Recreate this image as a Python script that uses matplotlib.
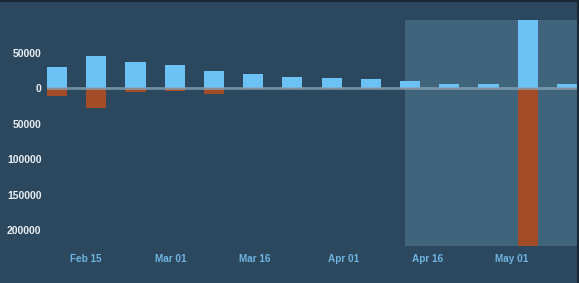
import datetime as dt
import matplotlib
matplotlib.use("Agg")
import matplotlib.pyplot as plt
import matplotlib.dates as mdates
from matplotlib.lines import Line2D

# weekly bars (Sundays, 2020)
weeks = ["2020-02-09", "2020-02-16", "2020-02-23", "2020-03-01", "2020-03-08",
         "2020-03-15", "2020-03-22", "2020-03-29", "2020-04-05", "2020-04-12",
         "2020-04-19", "2020-04-26", "2020-05-03", "2020-05-10"]
added = [30000, 45500, 37600, 32400, 24900, 19700, 16000, 14500, 12700, 9900,
         6600, 6100, 260000, 5600]
removed = [10800, 27000, 4700, 4000, 7500, 1500, 1500, 1000, 800, 600,
           500, 1500, 260000, 500]

tick_dates = ["2020-02-15", "2020-03-01", "2020-03-16", "2020-04-01",
              "2020-04-16", "2020-05-01"]
tick_labels = ["Feb 15", "Mar 01", "Mar 16", "Apr 01", "Apr 16", "May 01"]
y_ticks = [50000, 0, -50000, -100000, -150000, -200000]
y_labels = ["50000", "0", "50000", "100000", "150000", "200000"]

bg = "#2c485e"
blue = "#6cc1f5"
orange = "#a34c28"

def d(s):
    return dt.datetime.strptime(s, "%Y-%m-%d")

x = [d(w) for w in weeks]

fig = plt.figure(figsize=(5.79, 2.83), dpi=100, facecolor=bg)
ax = fig.add_axes([47 / 579, 1 - 246 / 283, 530 / 579, 226 / 283])
ax.set_facecolor(bg)

ax.axvspan(d("2020-04-11") + dt.timedelta(hours=4), d("2020-05-13"),
           color="#41647d", zorder=0, lw=0)

ax.bar(x, added, width=3.6, color=blue, zorder=2)
ax.bar(x, [-v for v in removed], width=3.6, color=orange, zorder=2)
ax.axhline(0, color="#86a6ba", lw=2, alpha=0.75, zorder=3)

ax.set_xlim(d("2020-02-09") - dt.timedelta(days=1.8),
            d("2020-05-10") + dt.timedelta(days=1.8))
ax.set_ylim(-222600, 96600)

# labels sit a little left of the date itself
ax.set_xticks([mdates.date2num(d(t)) - 0.8 for t in tick_dates])
ax.set_xticklabels(tick_labels)
ax.set_yticks(y_ticks)
ax.set_yticklabels(y_labels)
ax.tick_params(axis="x", length=0, pad=6, colors="#6fb3e0", labelsize=7.2)
ax.tick_params(axis="y", length=0, pad=4, colors="#e8eef2", labelsize=7.5)
for lab in ax.get_xticklabels() + ax.get_yticklabels():
    lab.set_fontfamily("Liberation Sans")
    lab.set_fontweight("bold")
for s in ax.spines.values():
    s.set_visible(False)

# dark frame lines at top and right
fig.add_artist(Line2D([0, 1], [1 - 0.5 / 283] * 2, color="#1b2735", lw=1.5,
                      transform=fig.transFigure))
fig.add_artist(Line2D([1 - 1 / 579] * 2, [0, 1], color="#1b2735", lw=1.5,
                      transform=fig.transFigure))

fig.savefig("out.png", dpi=100, facecolor=bg)
